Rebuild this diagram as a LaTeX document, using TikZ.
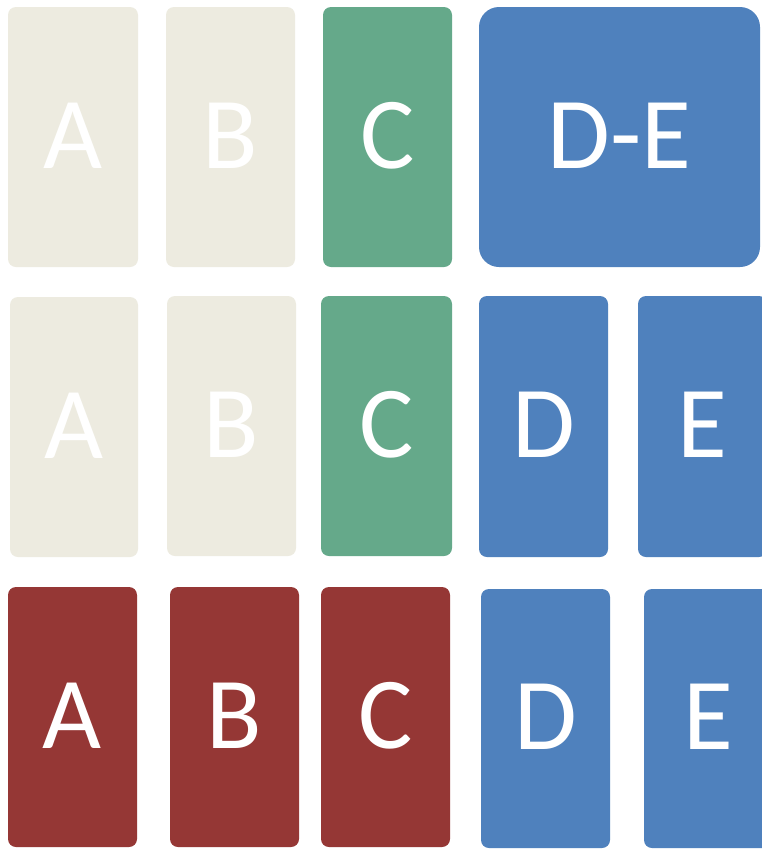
\documentclass[tikz,border=0pt]{standalone}
\usepackage{fontspec}
\setmainfont{Carlito}
\definecolor{beige}{HTML}{EDEBE0}
\definecolor{sage}{HTML}{65A98A}
\definecolor{steel}{HTML}{4F81BD}
\definecolor{brick}{HTML}{953735}
\tikzset{
  card/.style={rounded corners=8pt, inner sep=0pt, text=white,
    minimum width=129pt, minimum height=260pt,
    font=\fontsize{102}{102}\selectfont},
  wide/.style={card, rounded corners=20pt, minimum width=281pt}
}
\newcommand{\cardtext}[1]{\raisebox{3pt}{#1}}
\begin{document}
\begin{tikzpicture}[x=1pt,y=-1pt]
\useasboundingbox (0,0) rectangle (762,849);
\clip (0,0) rectangle (762,849);
\fill[white] (0,0) rectangle (762,849);
% row 1
\node[card, fill=beige, minimum width=130pt] (a1) at (73,137) {\cardtext{A}};
\node[card, fill=beige] (b1) at (230.5,137) {\cardtext{B}};
\node[card, fill=sage] (c1) at (387.5,137) {\cardtext{C}};
\node[wide, fill=steel] (de1) at (619.5,137) {\cardtext{D-E}};
% row 2
\node[card, fill=beige, minimum width=128pt] (a2) at (74,427) {\cardtext{A}};
\node[card, fill=beige] (b2) at (231.5,426) {\cardtext{B}};
\node[card, fill=sage, minimum width=131pt] (c2) at (386.5,426) {\cardtext{C}};
\node[card, fill=steel, minimum height=261pt] (d2) at (543.5,426.5) {\cardtext{D}};
\node[card, fill=steel, minimum height=261pt] (e2) at (702.5,426.5) {\cardtext{E}};
% row 3
\node[card, fill=brick] (a3) at (72.5,717) {\cardtext{A}};
\node[card, fill=brick] (b3) at (234.5,717) {\cardtext{B}};
\node[card, fill=brick] (c3) at (385.5,717) {\cardtext{C}};
\node[card, fill=steel, minimum height=259pt] (d3) at (545.5,718.5) {\cardtext{D}};
\node[card, fill=steel, minimum height=259pt] (e3) at (708.5,718.5) {\cardtext{E}};
\end{tikzpicture}
\end{document}
